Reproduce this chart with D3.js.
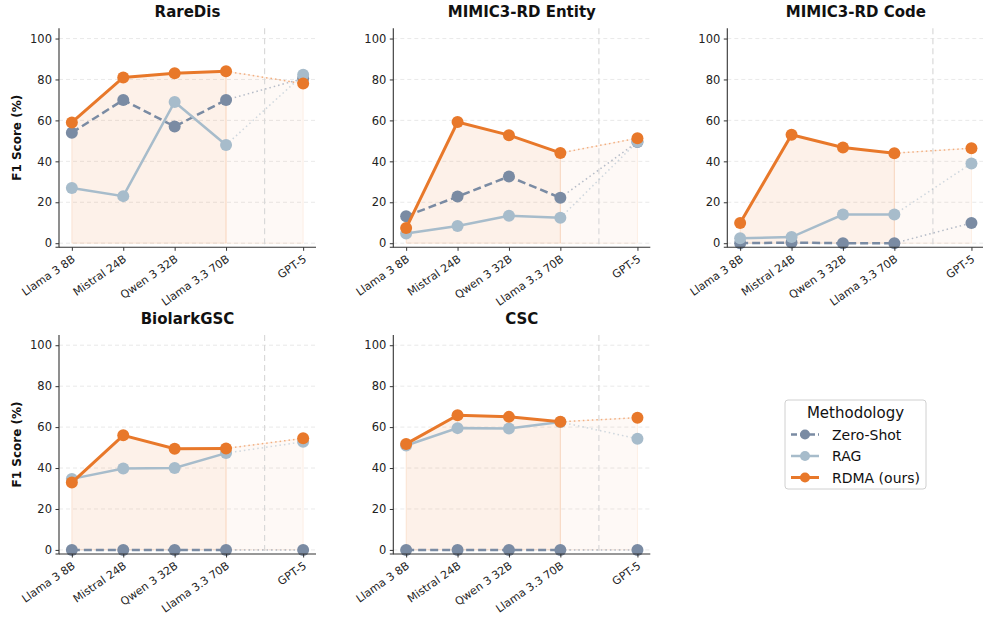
<!DOCTYPE html>
<html>
<head>
<meta charset="utf-8">
<script src="https://cdn.jsdelivr.net/npm/d3@7"></script>
<style>
  body { margin: 0; background: #fff; }
  svg { font-family: "DejaVu Sans", sans-serif; }
</style>
</head>
<body>
<svg id="chart" width="983" height="617"></svg>
<script>
// models on the x axis, GPT-5 set apart after a gap
const models = ["Llama 3 8B", "Mistral 24B", "Qwen 3 32B", "Llama 3.3 70B", "GPT-5"];
const modelPos = [0, 1, 2, 3, 4.5];
const datasets = ["RareDis", "MIMIC3-RD Entity", "MIMIC3-RD Code", "BiolarkGSC", "CSC"];

// F1 scores (%) per dataset, one entry per model
const zeroShot = [
  [54, 70, 57, 70, 80.5],
  [13.2, 22.8, 32.6, 22.2, 49.5],
  [0, 0.3, 0, 0, 9.9],
  [0, 0, 0, 0, 0],
  [0, 0, 0, 0, 0]
];
const rag = [
  [27, 23, 69, 48, 82.3],
  [4.7, 8.4, 13.4, 12.4, 49.6],
  [2.4, 3, 14, 14, 39],
  [34.7, 39.8, 40, 47.3, 52.8],
  [51, 59.5, 59.3, 62.5, 54.3]
];
const rdma = [
  [59, 81, 83, 84, 78],
  [7.4, 59.2, 52.8, 44.1, 51.3],
  [9.9, 53, 46.8, 44, 46.4],
  [32.9, 56, 49.4, 49.6, 54.5],
  [51.8, 65.8, 65, 62.6, 64.6]
];
const yTicks = [0, 20, 40, 60, 80, 100];

const series = [
  {name: "Zero-Shot", values: zeroShot, color: "#7a8ba3", width: 2.5, dash: "8,4"},
  {name: "RAG", values: rag, color: "#a7bccb", width: 2.5, dash: null},
  {name: "RDMA (ours)", values: rdma, color: "#e8782a", width: 3, dash: null}
];

const svg = d3.select("#chart");
const W = 257, H = 219;
const origins = [[59, 28.3], [393.3, 28.3], [727.3, 28.3], [59, 335], [393.3, 335]];

const x = d3.scaleLinear().domain([-0.25, 4.75]).range([0, W]);
const y = d3.scaleLinear().domain([-2, 105]).range([H, 0]);

datasets.forEach(function (name, di) {
  const g = svg.append("g").attr("transform", `translate(${origins[di][0]},${origins[di][1]})`);

  // horizontal grid
  g.selectAll(".grid").data(yTicks).join("line")
    .attr("x1", 0).attr("x2", W)
    .attr("y1", d => y(d)).attr("y2", d => y(d))
    .attr("stroke", "#e3e3e3").attr("stroke-width", 0.8)
    .attr("stroke-dasharray", "4,3");

  // shaded area under RDMA
  const main = d3.range(4).map(i => [modelPos[i], rdma[di][i]]);
  const area = d3.area().x(d => x(d[0])).y0(y(0)).y1(d => y(d[1]));
  g.append("path").datum(main).attr("d", area)
    .attr("fill", "#e8782a").attr("fill-opacity", 0.1)
    .attr("stroke", "#e8782a").attr("stroke-opacity", 0.15).attr("stroke-width", 1);
  const ext = [[modelPos[3], rdma[di][3]], [modelPos[4], rdma[di][4]]];
  g.append("path").datum(ext).attr("d", area)
    .attr("fill", "#e8782a").attr("fill-opacity", 0.045)
    .attr("stroke", "#e8782a").attr("stroke-opacity", 0.1).attr("stroke-width", 1);

  // separator before GPT-5
  g.append("line")
    .attr("x1", x(3.75)).attr("x2", x(3.75)).attr("y1", 0).attr("y2", H)
    .attr("stroke", "#d9d9d9").attr("stroke-width", 1.2).attr("stroke-dasharray", "6,4");

  // series
  series.forEach(function (s) {
    const vals = s.values[di];
    const pts = vals.map((v, i) => [modelPos[i], v]);
    const line = d3.line().x(d => x(d[0])).y(d => y(d[1]));
    g.append("path").datum(pts.slice(3, 5)).attr("d", line)
      .attr("fill", "none").attr("stroke", s.color).attr("stroke-opacity", 0.55)
      .attr("stroke-width", 1.5).attr("stroke-dasharray", "1.5,3");
    g.append("path").datum(pts.slice(0, 4)).attr("d", line)
      .attr("fill", "none").attr("stroke", s.color)
      .attr("stroke-width", s.width).attr("stroke-dasharray", s.dash);
    g.selectAll(null).data(pts).join("circle")
      .attr("cx", d => x(d[0])).attr("cy", d => y(d[1])).attr("r", 6)
      .attr("fill", s.color);
  });

  // axes
  const yAxis = g.append("g").call(d3.axisLeft(y).tickValues(yTicks).tickSize(3.5).tickPadding(3.5));
  const xAxis = g.append("g").attr("transform", `translate(0,${H})`)
    .call(d3.axisBottom(x).tickValues(modelPos).tickFormat((d, i) => models[i]).tickSize(3.5).tickPadding(3));
  [yAxis, xAxis].forEach(a => {
    a.attr("font-family", "DejaVu Sans");
    a.select(".domain").attr("stroke", "#333").attr("stroke-width", 1.1);
    a.selectAll(".tick line").attr("stroke", "#333");
  });
  yAxis.selectAll("text").attr("font-size", 11.5).attr("fill", "#222");
  xAxis.selectAll("text")
    .attr("font-size", 11).attr("fill", "#222")
    .attr("x", 0).attr("y", 0)
    .attr("text-anchor", "end").attr("dy", "0.72em")
    .attr("transform", "translate(-1,7) rotate(-35)");
  yAxis.select(".domain").attr("d", `M-3.5,${H}H0V0`);
  xAxis.select(".domain").attr("d", `M0,0H${W}`);

  g.append("text").attr("x", W / 2).attr("y", -11)
    .attr("text-anchor", "middle").attr("font-size", 15).attr("font-weight", "bold")
    .attr("fill", "#111").text(name);

  if (origins[di][0] < 100) {
    g.append("text")
      .attr("transform", `translate(-38,${H / 2}) rotate(-90)`)
      .attr("text-anchor", "middle").attr("font-size", 12).attr("font-weight", "bold")
      .attr("fill", "#111").text("F1 Score (%)");
  }
});

// legend
const lg = svg.append("g").attr("transform", "translate(785,400)");
lg.append("rect").attr("width", 141).attr("height", 89).attr("rx", 3)
  .attr("fill", "#fff").attr("stroke", "#d0d0d0");
lg.append("text").attr("x", 70.5).attr("y", 18).attr("text-anchor", "middle")
  .attr("font-size", 15).attr("fill", "#111").text("Methodology");
series.forEach(function (s, i) {
  const yy = 34.5 + i * 21.5;
  lg.append("line").attr("x1", 6).attr("x2", 34).attr("y1", yy).attr("y2", yy)
    .attr("stroke", s.color).attr("stroke-width", s.width).attr("stroke-dasharray", s.dash ? "6,3" : null);
  lg.append("circle").attr("cx", 20).attr("cy", yy).attr("r", 5).attr("fill", s.color);
  lg.append("text").attr("x", 47).attr("y", yy + 5).attr("font-size", 14)
    .attr("fill", "#111").text(s.name);
});
</script>
</body>
</html>
